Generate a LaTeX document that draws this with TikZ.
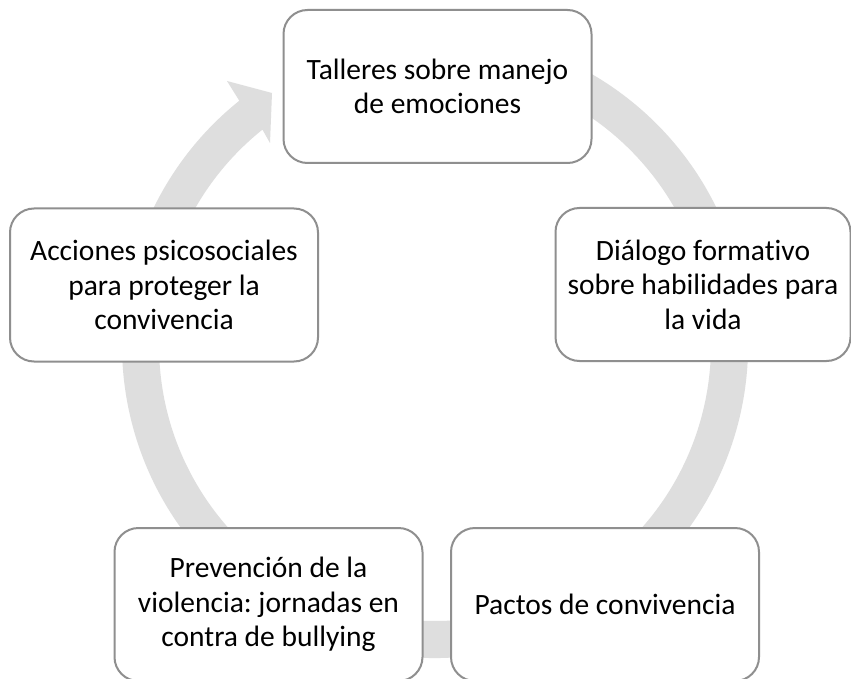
\documentclass[tikz,border=0pt]{standalone}
\usepackage{fontspec}
\setmainfont{Carlito}[Ligatures=NoCommon]
\frenchspacing
\definecolor{ringc}{HTML}{DEDEDE}
\definecolor{boxline}{HTML}{8F8F8F}
\tikzset{
  stagebox/.style={draw=boxline, line width=2pt, fill=white, rounded corners=24pt,
    minimum width=308pt, minimum height=153pt, align=center, inner sep=0pt,
    font=\fontsize{29.5}{34.5}\selectfont, text=black},
}
\begin{document}
\begin{tikzpicture}[x=1pt,y=1pt]
\clip (0,0) rectangle (851,-679);
\fill[white] (0,0) rectangle (851,-679);
% ring with arrow head
\coordinate (c) at (435,-345);
\fill[ringc] ([shift={(c)}]128.7:313) -- (227,-81) -- (272,-93) -- (270,-143)
  -- ([shift={(c)}]128.7:276) arc[start angle=128.7, end angle=460, radius=276]
  -- ([shift={(c)}]460:313) arc[start angle=460, end angle=128.7, radius=313] -- cycle;
% boxes
\node[stagebox] (n1) at (437.5,-86.5) {Talleres sobre manejo\\de emociones};
\node[stagebox, minimum width=295pt] (n2) at (703,-284.5) {Diálogo formativo\\sobre habilidades para\\la vida};
\node[stagebox] (n3) at (605,-604.5) {Pactos de convivencia};
\node[stagebox] (n4) at (268.5,-604.5) {Prevención de la\\violencia: jornadas en\\contra de bullying};
\node[stagebox] (n5) at (164,-285) {Acciones psicosociales\\para proteger la\\convivencia};
\end{tikzpicture}
\end{document}
